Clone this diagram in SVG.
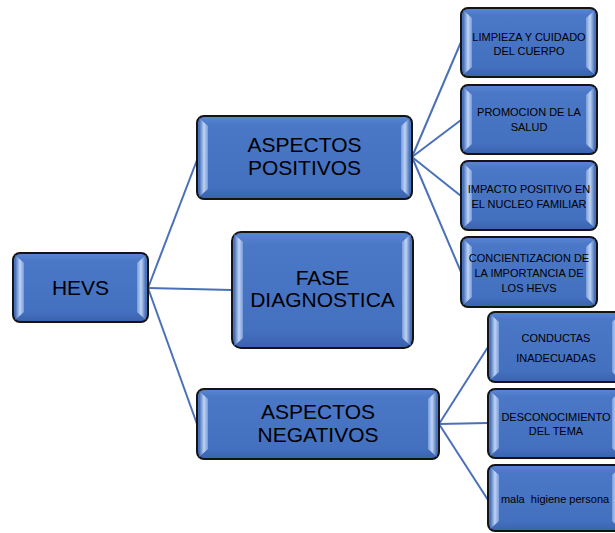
<svg xmlns="http://www.w3.org/2000/svg" width="615" height="533" viewBox="0 0 615 533">
<defs>
<linearGradient id="fill" x1="0" y1="0" x2="0" y2="1">
<stop offset="0" stop-color="#5a86d2"/>
<stop offset="0.12" stop-color="#4a77c6"/>
<stop offset="0.85" stop-color="#4470c0"/>
<stop offset="1" stop-color="#3a62ad"/>
</linearGradient>
<linearGradient id="bevL" x1="0" y1="0" x2="1" y2="0">
<stop offset="0" stop-color="#3d66b3"/>
<stop offset="0.55" stop-color="#d4e4fb"/>
<stop offset="1" stop-color="#7fa3df"/>
</linearGradient>
<linearGradient id="bevR" x1="1" y1="0" x2="0" y2="0">
<stop offset="0" stop-color="#3d66b3"/>
<stop offset="0.55" stop-color="#d4e4fb"/>
<stop offset="1" stop-color="#7fa3df"/>
</linearGradient>
</defs>
<style>
.box{fill:url(#fill);stroke:#141414;stroke-width:2}
.bl{fill:url(#bevL);opacity:0.85}
.br{fill:url(#bevR);opacity:0.85}
.big{font-family:"Liberation Sans",Arial,sans-serif;font-size:21px;fill:#000;text-anchor:middle}
.small{font-family:"Liberation Sans",Arial,sans-serif;font-size:11px;fill:#000;text-anchor:middle;white-space:pre}
.con line{stroke:#4a70b8;stroke-width:2;fill:none}
</style>
<rect width="615" height="533" fill="#fff"/>
<g id="connectors" class="con">
<line x1="148" y1="288" x2="197" y2="160"/>
<line x1="148" y1="288" x2="232" y2="290"/>
<line x1="148" y1="288" x2="197" y2="424"/>
<line x1="412" y1="157" x2="461" y2="42"/>
<line x1="412" y1="157" x2="461" y2="120"/>
<line x1="412" y1="157" x2="461" y2="196"/>
<line x1="412" y1="157" x2="461" y2="272"/>
<line x1="439" y1="424" x2="488" y2="347"/>
<line x1="439" y1="424" x2="488" y2="423"/>
<line x1="439" y1="424" x2="488" y2="500"/>
</g>
<g id="hevs">
<rect class="box" x="13" y="253" width="135" height="69" rx="7"/>
<path class="bl" d="M15 255 L24 263 L24 312 L15 320 Z"/>
<path class="br" d="M146 255 L137 263 L137 312 L146 320 Z"/>
<text class="big" x="80.5" y="295" font-size="23">HEVS</text>
</g>
<g id="positivos">
<rect class="box" x="197" y="116" width="215" height="83" rx="7"/>
<path class="bl" d="M199 118 L208 126 L208 189 L199 197 Z"/>
<path class="br" d="M410 118 L401 126 L401 189 L410 197 Z"/>
<text class="big" x="304.5" y="152">ASPECTOS</text>
<text class="big" x="304.5" y="175">POSITIVOS</text>
</g>
<g id="fase">
<rect class="box" x="232" y="232" width="181" height="116" rx="9"/>
<path class="bl" d="M234 234 L243 242 L243 338 L234 346 Z"/>
<path class="br" d="M411 234 L402 242 L402 338 L411 346 Z"/>
<text class="big" x="322.5" y="285">FASE</text>
<text class="big" x="322.5" y="307">DIAGNOSTICA</text>
</g>
<g id="negativos">
<rect class="box" x="197" y="389" width="242" height="70" rx="7"/>
<path class="bl" d="M199 391 L208 399 L208 449 L199 457 Z"/>
<path class="br" d="M437 391 L428 399 L428 449 L437 457 Z"/>
<text class="big" x="318" y="419">ASPECTOS</text>
<text class="big" x="318" y="442">NEGATIVOS</text>
</g>
<g id="limpieza">
<rect class="box" x="461" y="8" width="136" height="69" rx="7"/>
<path class="bl" d="M463 10 L472 18 L472 67 L463 75 Z"/>
<path class="br" d="M595 10 L586 18 L586 67 L595 75 Z"/>
<text class="small" x="529" y="41">LIMPIEZA Y CUIDADO</text>
<text class="small" x="529" y="55">DEL CUERPO</text>
</g>
<g id="promocion">
<rect class="box" x="461" y="85" width="136" height="69" rx="7"/>
<path class="bl" d="M463 87 L472 95 L472 144 L463 152 Z"/>
<path class="br" d="M595 87 L586 95 L586 144 L595 152 Z"/>
<text class="small" x="529" y="116">PROMOCION DE LA</text>
<text class="small" x="529" y="131">SALUD</text>
</g>
<g id="impacto">
<rect class="box" x="461" y="161" width="136" height="69" rx="7"/>
<path class="bl" d="M463 163 L472 171 L472 220 L463 228 Z"/>
<path class="br" d="M595 163 L586 171 L586 220 L595 228 Z"/>
<text class="small" x="529" y="193">IMPACTO POSITIVO EN</text>
<text class="small" x="529" y="208">EL NUCLEO FAMILIAR</text>
</g>
<g id="concientizacion">
<rect class="box" x="461" y="237" width="136" height="70" rx="7"/>
<path class="bl" d="M463 239 L472 247 L472 297 L463 305 Z"/>
<path class="br" d="M595 239 L586 247 L586 297 L595 305 Z"/>
<text class="small" x="529" y="262">CONCIENTIZACION DE</text>
<text class="small" x="529" y="277">LA IMPORTANCIA DE</text>
<text class="small" x="529" y="292">LOS HEVS</text>
</g>
<g id="conductas">
<rect class="box" x="488" y="312" width="135" height="70" rx="7"/>
<path class="bl" d="M490 314 L499 322 L499 372 L490 380 Z"/>
<path class="br" d="M621 314 L612 322 L612 372 L621 380 Z"/>
<text class="small" x="556" y="342">CONDUCTAS</text>
<text class="small" x="556" y="362">INADECUADAS</text>
</g>
<g id="desconocimiento">
<rect class="box" x="488" y="389" width="135" height="69" rx="7"/>
<path class="bl" d="M490 391 L499 399 L499 448 L490 456 Z"/>
<path class="br" d="M621 391 L612 399 L612 448 L621 456 Z"/>
<text class="small" x="556" y="421">DESCONOCIMIENTO</text>
<text class="small" x="556" y="435">DEL TEMA</text>
</g>
<g id="higiene">
<rect class="box" x="488" y="465" width="135" height="66" rx="7"/>
<path class="bl" d="M490 467 L499 475 L499 521 L490 529 Z"/>
<path class="br" d="M621 467 L612 475 L612 521 L621 529 Z"/>
<text class="small" x="555" y="503" xml:space="preserve">mala  higiene persona</text>
</g>
</svg>
